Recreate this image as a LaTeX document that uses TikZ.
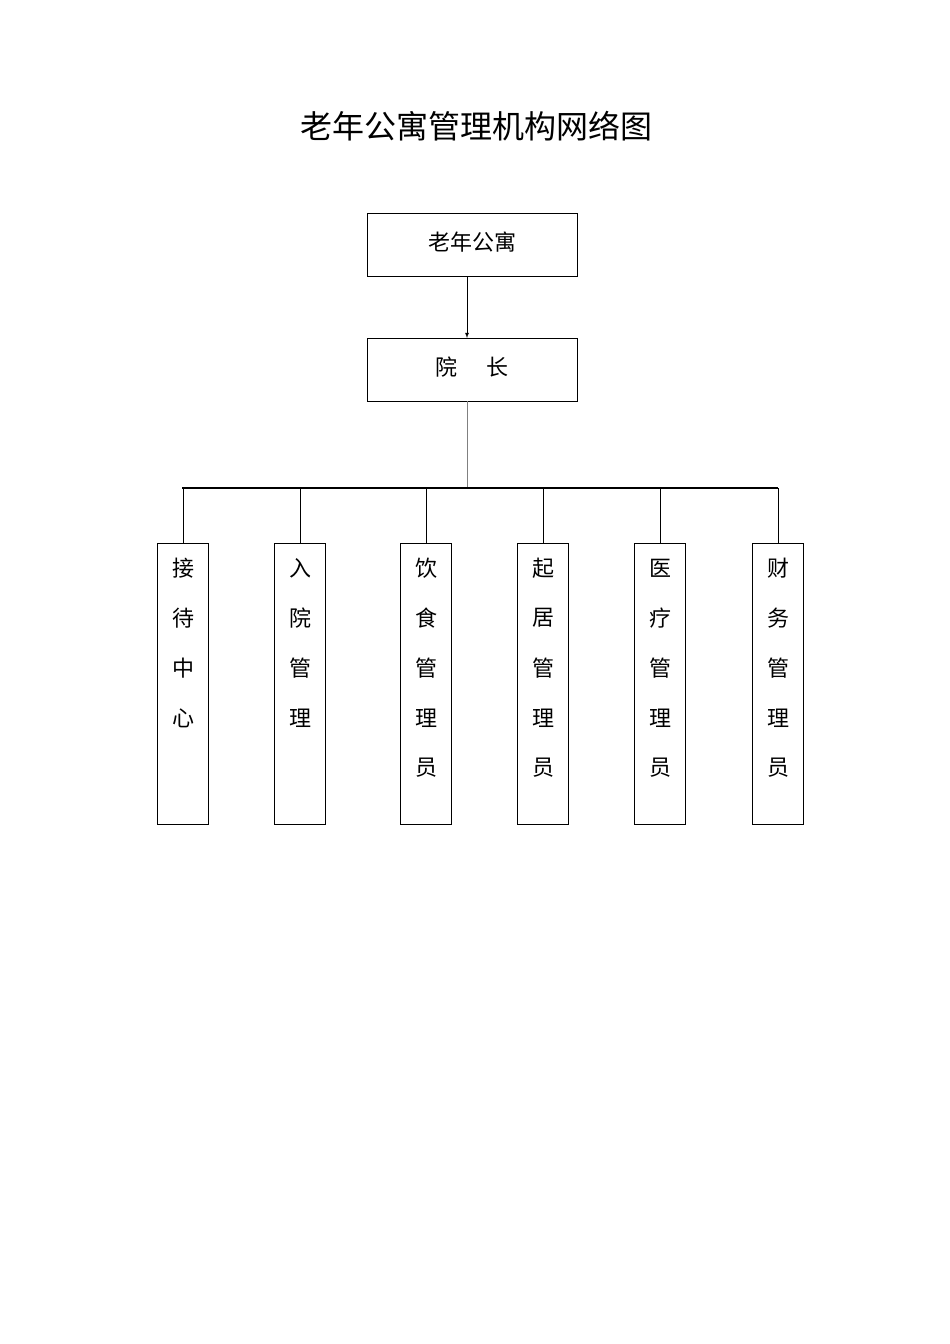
\documentclass[tikz,border=0pt]{standalone}
\usepackage{fontspec}
\newfontfamily\cjk{Noto Sans CJK SC}
\begin{document}
\begin{tikzpicture}[x=1pt,y=-1pt,
  top/.style={draw,minimum width=210pt,minimum height=63pt,inner sep=0pt,font=\cjk\fontsize{22}{24}\selectfont},
  col/.style={draw,minimum width=51pt,minimum height=281pt,inner sep=0pt,anchor=north},
  ch/.style={font=\cjk\fontsize{22}{24}\selectfont}]
\useasboundingbox (0,0) rectangle (950,1344);
\node[font=\cjk\fontsize{32}{34}\selectfont] (title) at (476,126) {老年公寓管理机构网络图};
\node[top] (a) at (472,244.5) {\raisebox{6pt}{老年公寓}};
\node[top] (b) at (472,369.5) {\raisebox{6pt}{院\hspace{1.3em}长}};
\draw[-latex,thick] (467,276) -- (467,338);
\coordinate (hub) at (467,488);
\draw[gray] (467,401) -- (hub);
\draw[line width=1.6pt] (182,488) -- (778,488);
\foreach \n/\x/\t in {c1/183/{接,待,中,心},c2/300/{入,院,管,理},c3/426/{饮,食,管,理,员},c4/543/{起,居,管,理,员},c5/660/{医,疗,管,理,员},c6/778/{财,务,管,理,员}}{
  \node[col] (\n) at (\x,543) {};
  \draw (\x,488) -- (\n.north);
  \foreach \c [count=\i] in \t { \node[ch] at (\x,518+50*\i) {\c}; }
}
\end{tikzpicture}
\end{document}
